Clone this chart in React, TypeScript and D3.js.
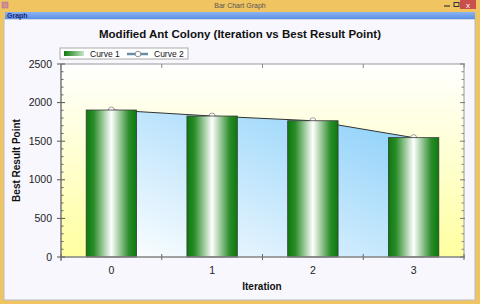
import * as d3 from "d3";

const W = 480;
const H = 304;
const PLOT = { left: 61, right: 464, top: 64, bottom: 257 };

const iterations = ["0", "1", "2", "3"];
const curve1 = [1904, 1826, 1765, 1546];
const curve2 = [1904, 1826, 1765, 1546];
const yTicks = [0, 500, 1000, 1500, 2000, 2500];
const yMinorStep = 100;

const FONT = "'Liberation Sans', Arial, sans-serif";

export default function App() {
  const xScale = d3
    .scaleBand<string>()
    .domain(iterations)
    .range([PLOT.left, PLOT.right])
    .paddingInner(0.5)
    .paddingOuter(0.25);
  const yScale = d3.scaleLinear().domain([0, 2500]).range([PLOT.bottom, PLOT.top]);

  const step = xScale.step();
  const bw = xScale.bandwidth();
  const cx = (c: string) => (xScale(c) || 0) + bw / 2;

  // category boundaries for x ticks
  const xBounds = d3.range(iterations.length + 1).map((i) => PLOT.left + i * step);
  const minorTicks = d3.range(0, 2501, yMinorStep).filter((v) => v % 500 !== 0);

  const pts = iterations.map((c, i) => ({ x: cx(c), y: curve2[i] }));
  const line = d3
    .line<{ x: number; y: number }>()
    .x((d) => d.x)
    .y((d) => yScale(d.y));
  const area = d3
    .area<{ x: number; y: number }>()
    .x((d) => d.x)
    .y0(yScale(0))
    .y1((d) => yScale(d.y));

  return (
    <div>
      <style>{"body{margin:0;}"}</style>
      <svg width={W} height={H} style={{ display: "block" }} fontFamily={FONT}>
        <defs>
          <linearGradient id="barFill" x1="0" y1="0" x2="1" y2="0">
            <stop offset="0%" stopColor="#0b7a0b" />
            <stop offset="15%" stopColor="#2a8c2a" />
            <stop offset="50%" stopColor="#ffffff" />
            <stop offset="85%" stopColor="#2a8c2a" />
            <stop offset="100%" stopColor="#0b7a0b" />
          </linearGradient>
          <linearGradient id="legFill" x1="0" y1="0" x2="1" y2="0">
            <stop offset="0%" stopColor="#0b7a0b" />
            <stop offset="100%" stopColor="#c8e6c8" />
          </linearGradient>
          <linearGradient id="areaFill" x1="0" y1="1" x2="1" y2="0">
            <stop offset="0%" stopColor="#ffffff" />
            <stop offset="100%" stopColor="#87cefa" />
          </linearGradient>
          <linearGradient id="chartFill" x1="0" y1="0" x2="0" y2="1">
            <stop offset="0%" stopColor="#ffffff" />
            <stop offset="100%" stopColor="#ffffa0" />
          </linearGradient>
          <linearGradient id="menuFill" x1="0" y1="0" x2="0" y2="1">
            <stop offset="0%" stopColor="#8cb4f2" />
            <stop offset="100%" stopColor="#5b8fe4" />
          </linearGradient>
        </defs>

        {/* window frame */}
        <rect x={0} y={0} width={W} height={H} fill="#efc461" />
        <rect x={4} y={19} width={471} height={281} fill="#f7f7fd" stroke="#b8bcc8" strokeWidth={1} />
        <rect x={5} y={12} width={470} height={7} fill="url(#menuFill)" />
        <text x={7} y={17.5} fontSize={7} fontWeight="bold" fill="#1b2a78">Graph</text>
        <text x={240} y={8} fontSize={7} fill="#555" textAnchor="middle">Bar Chart Graph</text>
        <rect x={2} y={2} width={6} height={6} fill="#d98a8a" stroke="#8a7aa8" strokeWidth={0.5} />
        <rect x={460} y={0} width={16} height={9} fill="#c94f4f" />
        <text x={468} y={7.5} fontSize={8} fill="#fff" textAnchor="middle">x</text>
        <line x1={444} x2={450} y1={6} y2={6} stroke="#333" strokeWidth={1.2} />
        <rect x={454} y={2.5} width={5} height={4} fill="none" stroke="#333" strokeWidth={1} />

        {/* chart title */}
        <text x={240} y={38} fontSize={11.5} fontWeight="bold" textAnchor="middle" fill="#111">
          Modified Ant Colony (Iteration vs Best Result Point)
        </text>

        {/* plot area */}
        <rect
          x={PLOT.left}
          y={PLOT.top}
          width={PLOT.right - PLOT.left}
          height={PLOT.bottom - PLOT.top}
          fill="url(#chartFill)"
        />

        {/* curve 2: filled line (drawn under the bars) */}
        <path d={area(pts) || ""} fill="url(#areaFill)" />
        <path d={line(pts) || ""} fill="none" stroke="#333" strokeWidth={1} />
        {pts.map((p, i) => (
          <circle key={i} cx={p.x} cy={yScale(p.y)} r={3} fill="#fff" stroke="#888" strokeWidth={0.8} />
        ))}

        {/* curve 1: bars */}
        {iterations.map((c, i) => (
          <rect
            key={c}
            x={xScale(c)}
            y={yScale(curve1[i])}
            width={bw}
            height={yScale(0) - yScale(curve1[i])}
            fill="url(#barFill)"
            stroke="#3a3a3a"
            strokeWidth={0.8}
          />
        ))}

        {/* frame */}
        <rect
          x={PLOT.left}
          y={PLOT.top}
          width={PLOT.right - PLOT.left}
          height={PLOT.bottom - PLOT.top}
          fill="none"
          stroke="#9a9a9a"
          strokeWidth={1}
        />

        {/* y axis ticks */}
        {yTicks.map((t) => (
          <g key={t}>
            <line x1={PLOT.left - 4} x2={PLOT.left + 4} y1={yScale(t)} y2={yScale(t)} stroke="#555" />
            <line x1={PLOT.right - 4} x2={PLOT.right + 1} y1={yScale(t)} y2={yScale(t)} stroke="#777" />
            <text x={52} y={yScale(t) + 3.6} fontSize={10.5} textAnchor="end" fill="#222">
              {t}
            </text>
          </g>
        ))}
        {minorTicks.map((t) => (
          <g key={t}>
            <line x1={PLOT.left} x2={PLOT.left + 2.5} y1={yScale(t)} y2={yScale(t)} stroke="#666" />
            <line x1={PLOT.right - 2.5} x2={PLOT.right} y1={yScale(t)} y2={yScale(t)} stroke="#888" />
          </g>
        ))}
        <line x1={PLOT.left} x2={PLOT.left} y1={PLOT.top} y2={PLOT.bottom + 4} stroke="#666" />

        {/* x axis ticks */}
        {xBounds.map((x, i) => (
          <g key={i}>
            <line x1={x} x2={x} y1={PLOT.bottom - 3} y2={PLOT.bottom + 3} stroke="#666" />
            <line x1={x} x2={x} y1={PLOT.top} y2={PLOT.top + 4} stroke="#888" />
          </g>
        ))}
        <line x1={PLOT.left} x2={PLOT.right} y1={PLOT.bottom} y2={PLOT.bottom} stroke="#777" />
        {iterations.map((c) => (
          <text key={c} x={cx(c)} y={274} fontSize={10.5} textAnchor="middle" fill="#222">
            {c}
          </text>
        ))}

        {/* axis titles */}
        <text x={262} y={290} fontSize={10} fontWeight="bold" textAnchor="middle" fill="#111">
          Iteration
        </text>
        <text
          transform={`translate(20,${(PLOT.top + PLOT.bottom) / 2}) rotate(-90)`}
          fontSize={10}
          fontWeight="bold"
          textAnchor="middle"
          fill="#111"
        >
          Best Result Point
        </text>

        {/* legend */}
        <rect x={60} y={48} width={128} height={11} fill="#fff" stroke="#aaa" strokeWidth={1} />
        <rect x={64} y={51} width={20} height={5} fill="url(#legFill)" />
        <text x={90} y={57} fontSize={8.5} fill="#111">Curve 1</text>
        <line x1={127} x2={148} y1={54} y2={54} stroke="#9fd2f5" strokeWidth={3} />
        <line x1={127} x2={148} y1={54} y2={54} stroke="#444" strokeWidth={1} />
        <circle cx={138} cy={54} r={2.8} fill="#fff" stroke="#777" strokeWidth={0.8} />
        <text x={154} y={57} fontSize={8.5} fill="#111">Curve 2</text>
      </svg>
    </div>
  );
}
